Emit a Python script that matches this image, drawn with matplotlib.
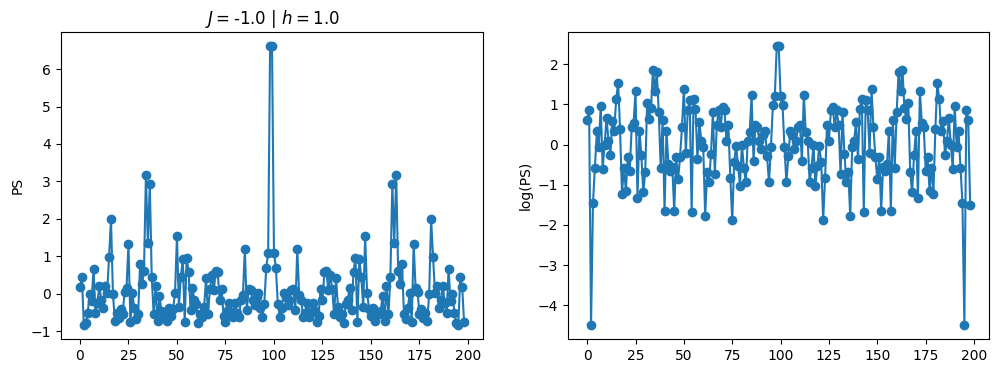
import numpy as np
import matplotlib
matplotlib.use("Agg")
import matplotlib.pyplot as plt

# standardised power spectrum
ps_values = [
    0.18, 0.44, -0.84, -0.78, -0.50, 0.0, -0.2, 0.67, -0.51, -0.24,
    0.22, -0.17, -0.37, 0.2, 0.02, 0.98, 2.0, 0.0, -0.72, -0.50,
    -0.65, -0.40, -0.53, 0.05, 0.15, 1.33, -0.75, 0.02, -0.37, -0.66,
    -0.54, 0.8, 0.25, 0.6, 3.17, 1.35, 2.93, 0.45, -0.55, 0.2,
    -0.73, -0.05, -0.47, -0.53, -0.49, -0.73, -0.39, -0.59, -0.40, 0.02,
    1.54, -0.35, 0.45, 0.92, -0.76, 0.97, 0.58, -0.42, 0.15, -0.17,
    -0.28, -0.77, -0.54, -0.61, -0.36, 0.42, -0.55, 0.14, 0.5, 0.09,
    0.62, 0.58, -0.17, 0.14, -0.58, -0.76, -0.45, -0.25, -0.49, -0.62,
    -0.24, -0.50, -0.61, -0.17, -0.02, 1.2, -0.44, 0.14, 0.09, -0.17,
    -0.30, -0.08, 0.02, -0.38, -0.61, -0.28, 0.68, 1.1, 6.62,
    6.62, 1.1, 0.68, -0.28, -0.61, -0.38, 0.02, -0.08, -0.30, -0.17,
    0.09, 0.14, -0.44, 1.2, -0.02, -0.17, -0.61, -0.50, -0.24, -0.62,
    -0.49, -0.25, -0.45, -0.76, -0.58, 0.14, -0.17, 0.58, 0.62, 0.09,
    0.5, 0.14, -0.55, 0.42, -0.36, -0.61, -0.54, -0.77, -0.28, -0.17,
    0.15, -0.42, 0.58, 0.97, -0.76, 0.92, 0.45, -0.35, 1.54, 0.02,
    -0.40, -0.59, -0.39, -0.73, -0.49, -0.53, -0.47, -0.05, -0.73, 0.2,
    -0.55, 0.45, 2.93, 1.35, 3.17, 0.6, 0.25, 0.8, -0.54, -0.66,
    -0.37, 0.02, -0.75, 1.33, 0.15, 0.05, -0.53, -0.40, -0.65, -0.50,
    -0.72, 0.0, 2.0, 0.98, 0.02, 0.2, -0.37, -0.17, 0.22, -0.24,
    -0.51, 0.67, -0.2, 0.0, -0.50, -0.78, -0.84, 0.44, 0.18, -0.76,
]

# log of the power spectrum
log_ps = [
    0.62, 0.85, -4.5, -1.45, -0.57, 0.33, -0.05, 0.97, -0.6, 0.0,
    0.67, 0.1, -0.25, 0.6, 0.35, 1.14, 1.54, 0.38, -1.22, -0.57,
    -1.15, -0.32, -0.65, 0.43, 0.55, 1.33, -1.32, 0.35, -0.25, -1.19,
    -0.69, 1.03, 0.65, 0.9, 1.87, 1.33, 1.8, 0.81, -0.57, 0.62,
    -1.65, 0.35, -0.48, -0.65, -0.55, -1.65, -0.3, -0.86, -0.32, 0.43,
    1.39, -0.2, 0.85, 1.1, -1.69, 1.14, 0.89, -0.36, 0.56, 0.1,
    -0.07, -1.78, -0.69, -0.94, -0.23, 0.8, -0.73, 0.48, 0.85, 0.43,
    0.93, 0.85, 0.1, 0.48, -0.82, -1.88, -0.44, -0.03, -0.53, -1.02,
    0.0, -0.57, -0.94, 0.1, 0.31, 1.24, -0.4, 0.48, 0.43, 0.1,
    -0.11, 0.23, 0.35, -0.28, -0.94, -0.07, 0.98, 1.2, 2.46,
    2.46, 1.2, 0.98, -0.07, -0.94, -0.28, 0.35, 0.23, -0.11, 0.1,
    0.43, 0.48, -0.4, 1.24, 0.31, 0.1, -0.94, -0.57, 0.0, -1.02,
    -0.53, -0.03, -0.44, -1.88, -0.82, 0.48, 0.1, 0.85, 0.93, 0.43,
    0.85, 0.48, -0.73, 0.8, -0.23, -0.94, -0.69, -1.78, -0.07, 0.1,
    0.56, -0.36, 0.89, 1.14, -1.69, 1.1, 0.85, -0.2, 1.39, 0.43,
    -0.32, -0.86, -0.3, -1.65, -0.55, -0.65, -0.48, 0.35, -1.65, 0.62,
    -0.57, 0.81, 1.8, 1.33, 1.87, 0.9, 0.65, 1.03, -0.69, -1.19,
    -0.25, 0.35, -1.32, 1.33, 0.55, 0.43, -0.65, -0.32, -1.15, -0.57,
    -1.22, 0.38, 1.54, 1.14, 0.35, 0.6, -0.25, 0.1, 0.67, 0.0,
    -0.6, 0.97, -0.05, 0.33, -0.57, -1.45, -4.5, 0.85, 0.62, -1.5,
]

xticks = [0, 25, 50, 75, 100, 125, 150, 175, 200]
title_text = r"$J = $-1.0 | $h = $1.0"

x_left = np.arange(len(ps_values))
x_right = np.arange(len(log_ps))

fig = plt.figure(figsize=(9.99, 3.74), dpi=100)
ax1 = fig.add_axes([0.0608, 0.0928, 0.423, 0.822])
ax2 = fig.add_axes([0.5686, 0.0928, 0.4217, 0.822])

ax1.plot(x_left, ps_values, "o-", color="#1f77b4")
ax1.set_ylabel("PS")
ax1.set_title(title_text)
ax1.set_xticks(xticks)

ax2.plot(x_right, log_ps, "o-", color="#1f77b4")
ax2.set_ylabel("log(PS)")
ax2.set_xticks(xticks)

fig.savefig("out.png", dpi=100)
